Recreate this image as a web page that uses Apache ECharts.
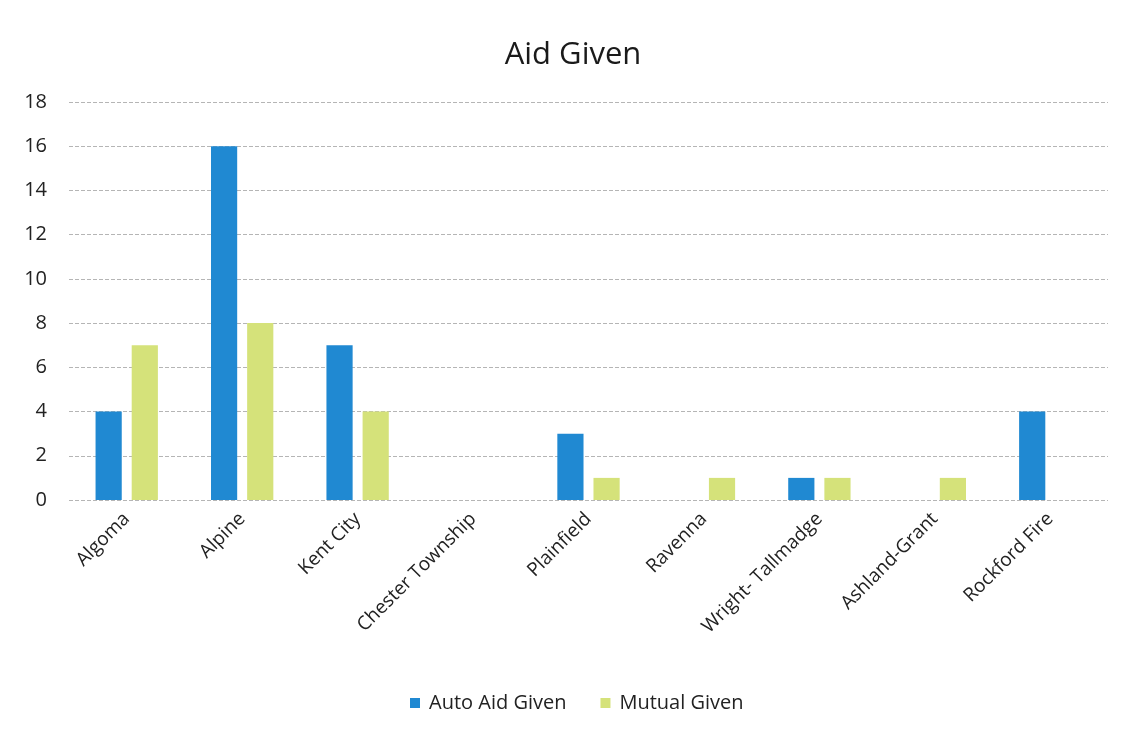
<!DOCTYPE html>
<html>
<head>
<meta charset="utf-8">
<script src="https://cdn.jsdelivr.net/npm/echarts@6/dist/echarts.min.js"></script>
<style>
html,body{margin:0;padding:0;background:#fff;}
#c{width:1146px;height:740px;}
</style>
</head>
<body>
<div id="c"></div>
<script>
const categories = ["Algoma","Alpine","Kent City","Chester Township","Plainfield","Ravenna","Wright- Tallmadge","Ashland-Grant","Rockford Fire"];
const autoAid = [4,16,7,0,3,0,1,0,4];
const mutual = [7,8,4,0,1,1,1,1,0];
const yTicks = {min:0,max:18,interval:2};

const chart = echarts.init(document.getElementById('c'));
chart.setOption({
  backgroundColor:'#fff',
  animation:false,
  title:{text:'Aid Given',left:'center',top:35,textStyle:{fontFamily:'Open Sans',fontSize:31,fontWeight:'normal',color:'#1a1a1a'}},
  legend:{bottom:22,left:405,itemWidth:10,itemHeight:10,itemGap:34,icon:'rect',
    textStyle:{fontFamily:'Open Sans',fontSize:20,color:'#222',padding:[0,0,0,4]}},
  grid:{left:69,right:38,top:102,bottom:240},
  xAxis:{type:'category',data:categories,
    axisLine:{show:false},axisTick:{show:false},
    axisLabel:{rotate:45,interval:0,fontFamily:'Open Sans',fontSize:19,color:'#222',margin:16}},
  yAxis:{type:'value',min:yTicks.min,max:yTicks.max,interval:yTicks.interval,
    axisLine:{show:false},axisTick:{show:false},
    axisLabel:{fontFamily:'Open Sans',fontSize:20,color:'#222',margin:22},
    splitLine:{lineStyle:{color:'#b5b5b5',type:'dashed',width:1}}},
  series:[
    {name:'Auto Aid Given',type:'bar',data:autoAid,barGap:'38%',barCategoryGap:'46%',itemStyle:{color:'#2089d2'}},
    {name:'Mutual Given',type:'bar',data:mutual,itemStyle:{color:'#d5e27a'}}
  ]
});
</script>
</body>
</html>
